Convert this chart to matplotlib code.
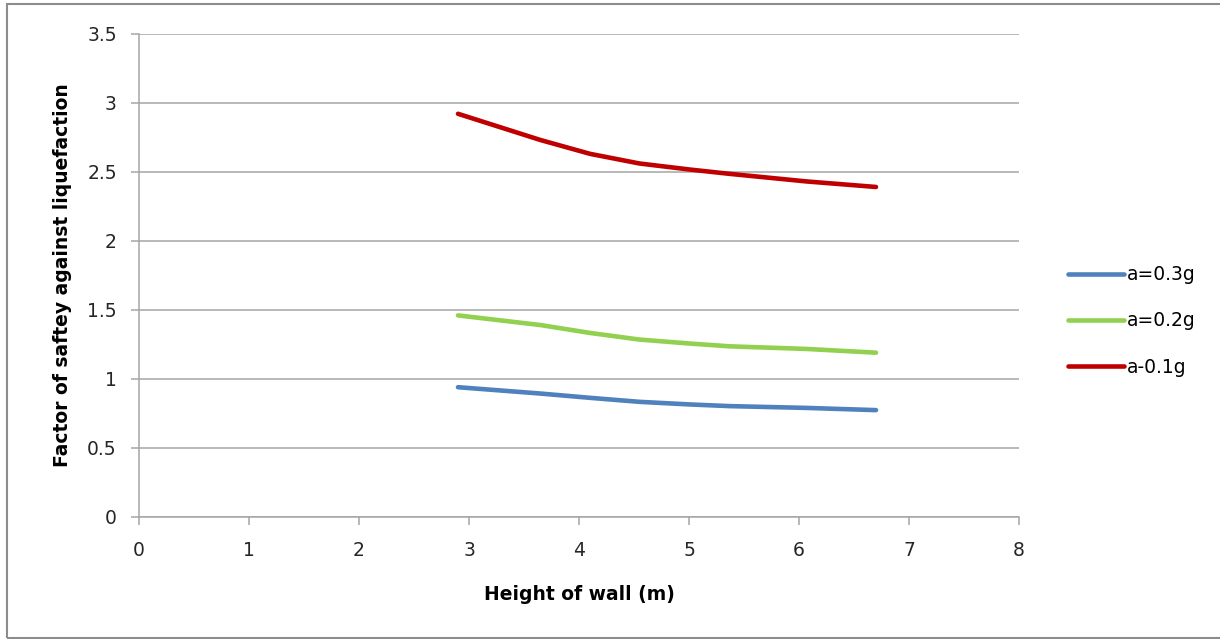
import matplotlib
matplotlib.use("Agg")
import matplotlib.pyplot as plt
from matplotlib.patches import Rectangle

plt.rcParams['font.family'] = ['DejaVu Sans']

# values
height = [2.9, 3.65, 4.1, 4.55, 5.01, 5.37, 6.07, 6.7]
fs_03g = [0.94, 0.894, 0.863, 0.834, 0.815, 0.803, 0.79, 0.774]
fs_02g = [1.46, 1.39, 1.333, 1.285, 1.256, 1.236, 1.217, 1.19]
fs_01g = [2.92, 2.73, 2.63, 2.56, 2.516, 2.485, 2.43, 2.39]
labels = ['a=0.3g', 'a=0.2g', 'a-0.1g']
colors = ['#4F81BD', '#92D050', '#C00000']

grey = '#A6A6A6'

fig = plt.figure(figsize=(12.2, 6.39), dpi=100)
ax = fig.add_axes([139/1220, 1 - 517/639, 880/1220, (517 - 33.7)/639])

for ys, lab, c in zip([fs_03g, fs_02g, fs_01g], labels, colors):
    ax.plot(height, ys, color=c, lw=3.3, label=lab,
            solid_capstyle='round', solid_joinstyle='round')

ax.set_xlim(0, 8)
ax.set_ylim(0, 3.5)
ax.set_xticks(range(0, 9))
ax.set_yticks([0, 0.5, 1, 1.5, 2, 2.5, 3, 3.5])
ax.set_yticklabels(['0', '0.5', '1', '1.5', '2', '2.5', '3', '3.5'])
ax.grid(axis='y', color=grey, lw=1.1)
ax.set_axisbelow(True)
for s in ['top', 'right']:
    ax.spines[s].set_visible(False)
for s in ['left', 'bottom']:
    ax.spines[s].set_color(grey)
    ax.spines[s].set_linewidth(1.1)
ax.tick_params(axis='both', colors=grey, length=6, width=1.1,
               labelsize=13.5, labelcolor='#262626')
ax.tick_params(axis='y', pad=10)
ax.tick_params(axis='x', pad=11)

ax.set_xlabel('Height of wall (m)', fontsize=13.5, fontweight='bold', labelpad=18)
ax.set_ylabel('Factor of saftey against liquefaction', fontsize=13.5,
              fontweight='bold', labelpad=11)

fig.legend(loc='center left', bbox_to_anchor=(1060/1220, 1 - 321/639),
           frameon=False, fontsize=13.5, handlelength=3.0,
           handletextpad=0.15, labelspacing=1.45, borderaxespad=0)

fig.patches.append(Rectangle((7/1220, 1/639), 1.1, 1 - 5/639,
                             transform=fig.transFigure, fill=False,
                             edgecolor='#8C8C8C', lw=1.5))

fig.savefig('out.png', dpi=100)
